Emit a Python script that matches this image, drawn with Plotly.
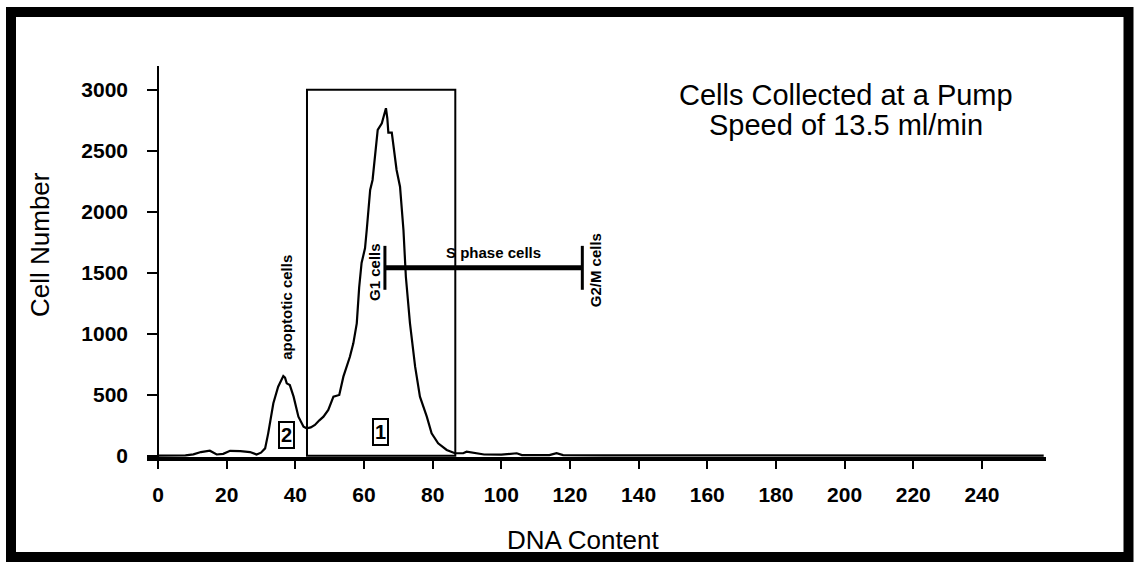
import plotly.graph_objects as go

# ---- data ----
dna_content = [0, 5, 8, 10.3, 12.5, 15.1, 17.1, 19, 21, 24, 26.8, 28.7, 30, 31.2, 32.1, 33.6,
               35.0, 36.5, 37.0, 37.5, 38.4, 39.5, 40.9, 42.4, 43.3, 44.5, 45.7, 47.0, 48.2,
               49.6, 51.1, 52.8, 54.0, 55.9, 56.9, 57.9, 58.6, 59.3, 60.3, 60.8, 61.8, 62.5,
               64.0, 65.2, 66.4, 66.8, 67.1, 68.1, 69.5, 70.5, 71.5, 72.2, 73.4, 74.9, 76.3,
               78.3, 79.7, 81.6, 84.1, 86.5, 88.9, 89.9, 92.8, 95, 100, 104.5, 106, 114,
               116.1, 118, 130, 150, 200, 258]
cell_number = [0, 0, 3, 11, 30, 41, 10, 15, 40, 38, 30, 10, 25, 60, 183, 430,
               566, 653, 640, 593, 579, 484, 320, 238, 225, 232, 252, 290, 320,
               375, 484, 498, 648, 811, 921, 1085, 1380, 1580, 1700, 1850, 2178, 2260,
               2670, 2725, 2848, 2766, 2648, 2648, 2342, 2205, 1850, 1467, 1085, 730, 484,
               320, 184, 102, 47, 20, 20, 33, 20, 10, 8, 20, 5, 5,
               20, 5, 3, 2, 1, 0]

x_ticks = [0, 20, 40, 60, 80, 100, 120, 140, 160, 180, 200, 220, 240]
y_ticks = [0, 500, 1000, 1500, 2000, 2500, 3000]

title_lines = ["Cells Collected at a Pump", "Speed of 13.5 ml/min"]

gate_region1 = [43.4, 86.6]      # region 1 gate (DNA content)
gate_top = 3000
g1_position = 66.1
g2m_position = 123.6
marker_level = 1540
marker_half_height = 180

# ---- figure geometry (pixels) ----
W, H = 1139, 567
ML, MR, MT, MB = 147, 93, 66, 110
PW, PH = W - ML - MR, H - MT - MB


def px(xp):
    return (xp - ML) / PW


def py(yp):
    return (H - MB - yp) / PH


fig = go.Figure()
fig.add_trace(go.Scatter(x=dna_content, y=cell_number, mode="lines",
                         line=dict(color="black", width=2.2), showlegend=False,
                         hoverinfo="skip"))

# S-phase marker bar
fig.add_trace(go.Scatter(x=[g1_position, g2m_position], y=[marker_level, marker_level],
                         mode="lines", line=dict(color="black", width=5),
                         showlegend=False, hoverinfo="skip"))
for gx in (g1_position, g2m_position):
    fig.add_trace(go.Scatter(x=[gx, gx],
                             y=[marker_level - marker_half_height, marker_level + marker_half_height],
                             mode="lines", line=dict(color="black", width=3),
                             showlegend=False, hoverinfo="skip"))

shapes = [
    dict(type="rect", xref="x", yref="y", x0=gate_region1[0], x1=gate_region1[1],
         y0=0, y1=gate_top, line=dict(color="black", width=2)),
    dict(type="rect", xref="paper", yref="paper", x0=px(11), x1=px(1128.5),
         y0=py(557), y1=py(12), line=dict(color="black", width=10)),
]

FAM = "Liberation Sans, Arial"
bold = dict(family=FAM, size=15, color="black", weight="bold")
C = dict(xanchor="center", yanchor="middle", showarrow=False)
annotations = [
    dict(x=37.5, y=1219, xref="x", yref="y", text="apoptotic cells", textangle=-90,
         font=bold, **C),
    dict(x=63.2, y=1506, xref="x", yref="y", text="G1 cells", textangle=-90,
         font=bold, **C),
    dict(x=127.3, y=1520, xref="x", yref="y", text="G2/M cells", textangle=-90,
         font=bold, **C),
    dict(x=97.6, y=1668, xref="x", yref="y", text="S phase cells",
         font=bold, **C),
    dict(x=64.7, y=197, xref="x", yref="y", text="1",
         font=dict(family=FAM, size=20, color="black", weight="bold"),
         bordercolor="black", borderwidth=2, borderpad=1, **C),
    dict(x=37.4, y=166, xref="x", yref="y", text="2",
         font=dict(family=FAM, size=20, color="black", weight="bold"),
         bordercolor="black", borderwidth=2, borderpad=1, **C),
    dict(x=px(846), y=py(95), xref="paper", yref="paper", text=title_lines[0],
         font=dict(family=FAM, size=29, color="black"), **C),
    dict(x=px(846), y=py(125), xref="paper", yref="paper", text=title_lines[1],
         font=dict(family=FAM, size=29, color="black"), **C),
    dict(x=px(583), y=py(540), xref="paper", yref="paper", text="DNA Content",
         font=dict(family=FAM, size=26, color="black"), **C),
    dict(x=px(40), y=py(245), xref="paper", yref="paper", text="Cell Number",
         textangle=-90, font=dict(family=FAM, size=26, color="black"), **C),
]

x_per_px = 1 / 3.433
y_per_px = 1 / 0.122
x_min = -(158 - ML) * x_per_px
x_max = x_min + PW * x_per_px
y_min = -(H - MB - 455.7) * y_per_px
y_max = y_min + PH * y_per_px

fig.update_layout(
    width=W, height=H, margin=dict(l=ML, r=MR, t=MT, b=MB),
    paper_bgcolor="white", plot_bgcolor="white",
    shapes=shapes, annotations=annotations,
    xaxis=dict(range=[x_min, x_max], tickvals=x_ticks, ticktext=[str(v) for v in x_ticks],
               showgrid=False, zeroline=True, zerolinecolor="black", zerolinewidth=2,
               showline=True, linecolor="black", linewidth=4, mirror=False,
               ticks="outside", ticklen=8, tickwidth=2, tickcolor="black",
               ticklabelstandoff=8,
               tickfont=dict(family=FAM, size=21, color="black", weight="bold")),
    yaxis=dict(range=[y_min, y_max], tickvals=y_ticks, ticktext=[str(v) for v in y_ticks],
               showgrid=False, zeroline=False, showline=False,
               ticks="inside", ticklen=11, tickwidth=2, tickcolor="black",
               ticklabelstandoff=18,
               tickfont=dict(family=FAM, size=21, color="black", weight="bold")),
)

fig.write_html("out.html")
